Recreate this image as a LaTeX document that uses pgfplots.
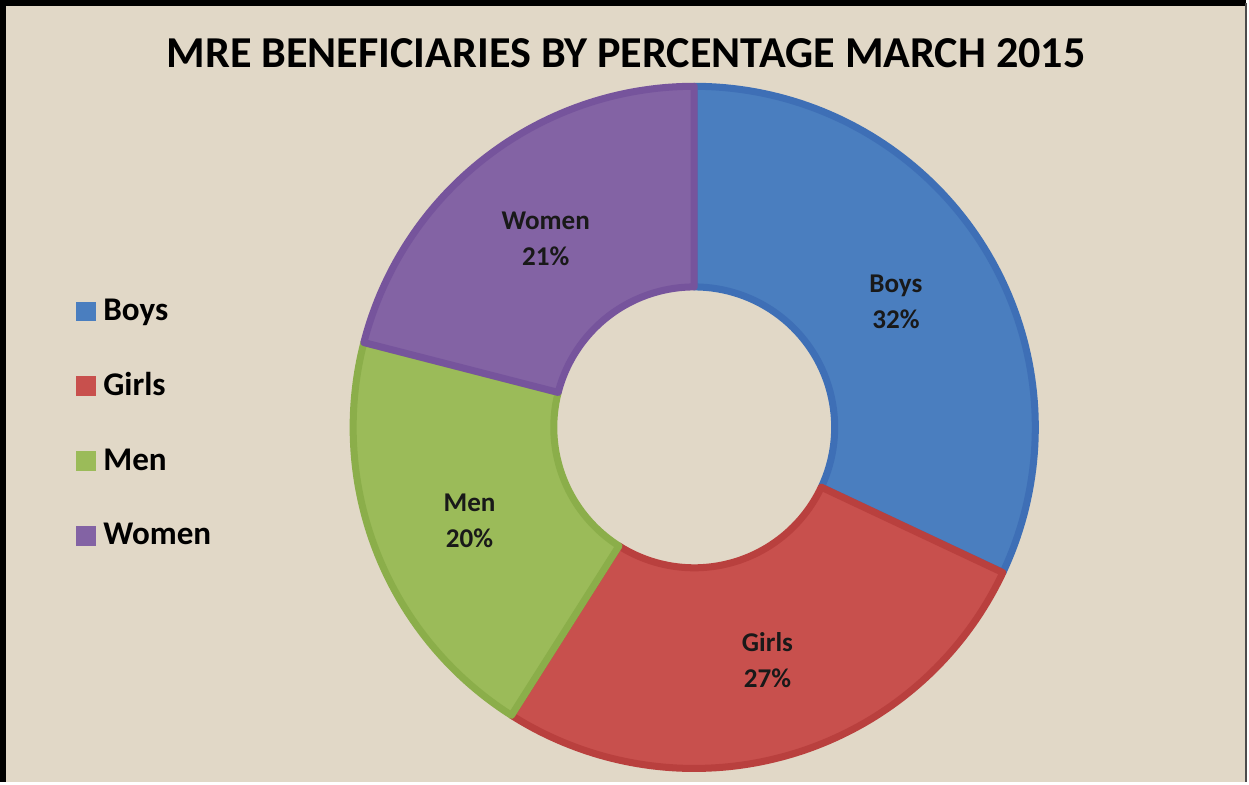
\documentclass[border=0pt]{standalone}
\usepackage{pgfplots}
\pgfplotsset{compat=1.18}
\usepgfplotslibrary{fillbetween}
\usepackage{fontspec}
\setmainfont{Carlito}

\definecolor{bgbeige}{RGB}{225,216,199}
\definecolor{boysfill}{RGB}{74,126,191}
\definecolor{boysedge}{RGB}{62,111,182}
\definecolor{girlsfill}{RGB}{200,80,77}
\definecolor{girlsedge}{RGB}{185,64,62}
\definecolor{menfill}{RGB}{155,187,89}
\definecolor{menedge}{RGB}{139,174,74}
\definecolor{womenfill}{RGB}{131,99,164}
\definecolor{womenedge}{RGB}{118,84,156}

% one ring segment between two angles
\newcommand{\ringslice}[5]{%
  \addplot[name path=o#5, draw=none, forget plot, domain=#1:#2, samples=90]
    ({697+340*cos(x)},{353+340*sin(x)});
  \addplot[name path=i#5, draw=none, forget plot, domain=#1:#2, samples=50]
    ({697+140*cos(x)},{353+140*sin(x)});
  \addplot[fill=#3, draw=#4, line width=3.5pt, line join=round, forget plot]
    fill between[of=o#5 and i#5];
}

\begin{document}
\begin{tikzpicture}
% shares in percent: Boys 32, Girls 27, Men 20, Women 21
\pgfmathsetmacro\aA{90}
\pgfmathsetmacro\aB{90-3.6*32}
\pgfmathsetmacro\aC{90-3.6*(32+27)}
\pgfmathsetmacro\aD{90-3.6*(32+27+20)}
\pgfmathsetmacro\aE{90-3.6*(32+27+20+21)}
\begin{axis}[
    width=624.5pt, height=391.5pt, scale only axis,
    xmin=0, xmax=1249, ymin=0, ymax=783,
    axis lines=none,
    clip=false,
    fill between/on layer=main,
    legend cell align=left,
    legend image code/.code={\fill[#1] (0pt,-4.7pt) rectangle (9.4pt,4.7pt);},
    legend style={at={(axis cs:74,488)}, anchor=north west, draw=none, fill=none,
        font=\fontsize{16.5}{18}\selectfont\bfseries, row sep=22.3pt,
        nodes={inner xsep=4pt, inner ysep=0pt, text height=12pt, text depth=3pt}},
]
% background and frame
\fill[bgbeige] (axis cs:8,0) rectangle (axis cs:1247,776);
\draw[black, line width=3pt] (axis cs:8,0) -- (axis cs:8,776) -- (axis cs:1247,776);
\draw[black!70, line width=1pt] (axis cs:1247,776) -- (axis cs:1247,0);

\ringslice{\aA}{\aB}{boysfill}{boysedge}{a}
\ringslice{\aB}{\aC}{girlsfill}{girlsedge}{b}
\ringslice{\aC}{\aD}{menfill}{menedge}{c}
\ringslice{\aD}{\aE}{womenfill}{womenedge}{d}

\addlegendimage{boysfill}\addlegendentry{Boys}
\addlegendimage{girlsfill}\addlegendentry{Girls}
\addlegendimage{menfill}\addlegendentry{Men}
\addlegendimage{womenfill}\addlegendentry{Women}

\node[font=\fontsize{22}{24}\selectfont\bfseries] at (axis cs:629,726)
    {MRE BENEFICIARIES BY PERCENTAGE MARCH 2015};
\begin{scope}[every node/.style={font=\fontsize{13.5}{18}\selectfont\bfseries, align=center, text=black!90}]
\node at (axis cs:898,478) {Boys\\32\%};
\node at (axis cs:770,121) {Girls\\27\%};
\node at (axis cs:473,260) {Men\\20\%};
\node at (axis cs:549,541) {Women\\21\%};
\end{scope}
\end{axis}
\end{tikzpicture}
\end{document}
